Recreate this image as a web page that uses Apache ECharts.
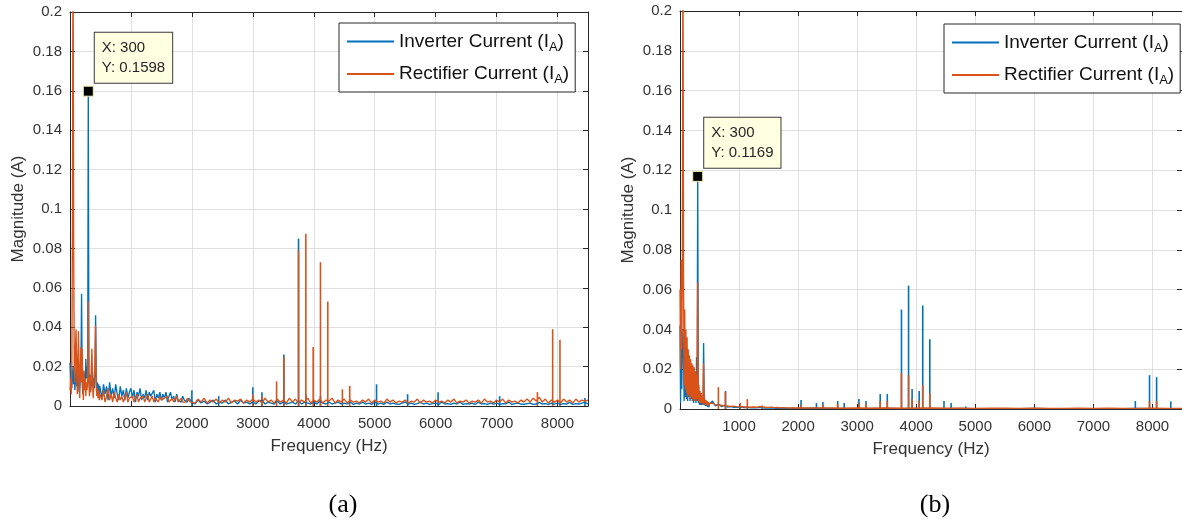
<!DOCTYPE html>
<html>
<head>
<meta charset="utf-8">
<script src="https://cdn.jsdelivr.net/npm/echarts@6/dist/echarts.min.js"></script>
<style>
html,body{margin:0;padding:0;background:#fff;}
#c{width:1182px;height:525px;}
</style>
</head>
<body>
<div id="c"></div>
<script>
// ---------- DATA ----------
const seriesNames = ['Inverter Current', 'Rectifier Current'];
const xTicks = { min: 0, max: 8500, interval: 1000 };
const yTicks = { min: 0, max: 0.2, interval: 0.02 };
const tipA = [300, 0.1598];
const tipB = [300, 0.1169];

// shared low-frequency bins (Hz)
const freqLow = [0,10,20,30,40,50,60,70,80,90,100,110,120,130,140,150,160,170,180,190,200,210,220,230,240,250,260,270,280,290,300,310,320,330,340,350,360,370,380,390,400,410,420,430,440,450,460,470,480,490];

// ---- panel (a) ----
const freqMidA = [500,525,550,575,600,625,650,675,700,725,750,775,800,825,850,875,900,925,950,975,1000,1025,1050,1075,1100,1125,1150,1175,1200,1225,1250,1275,1300,1325,1350,1375,1400,1425,1450,1475,1500,1525,1550,1575,1600,1625,1650,1675,1700,1725,1750,1775,1800,1825,1850,1875,1900,1925,1950,1975];
const freqHighA = [2000,2050,2100,2150,2200,2250,2300,2350,2400,2450,2500,2550,2600,2650,2700,2750,2800,2850,2900,2950,3000,3050,3100,3150,3200,3250,3300,3350,3400,3450,3500,3550,3600,3650,3700,3750,3800,3850,3900,3950,4000,4050,4100,4150,4200,4250,4300,4350,4400,4450,4500,4550,4600,4650,4700,4750,4800,4850,4900,4950,5000,5050,5100,5150,5200,5250,5300,5350,5400,5450,5500,5550,5600,5650,5700,5750,5800,5850,5900,5950,6000,6050,6100,6150,6200,6250,6300,6350,6400,6450,6500,6550,6600,6650,6700,6750,6800,6850,6900,6950,7000,7050,7100,7150,7200,7250,7300,7350,7400,7450,7500,7550,7600,7650,7700,7750,7800,7850,7900,7950,8000,8050,8100,8150,8200,8250,8300,8350,8400,8450,8500];

const invLowA = [0.022,0.012,0.018,0.009,0.016,0.02,0.011,0.017,0.008,0.014,
0.019,0.01,0.015,0.007,0.013,0.018,0.009,0.014,0.02,0.057,
0.012,0.006,0.013,0.009,0.017,0.011,0.024,0.014,0.02,0.012,
0.1598,0.015,0.009,0.016,0.008,0.013,0.01,0.017,0.011,0.014,
0.009,0.018,0.046,0.014,0.008,0.012,0.007,0.011,0.006,0.01];
const recLowA = [0.008,0.014,0.006,0.02,0.09,0.25,0.08,0.02,0.012,0.03,
0.039,0.018,0.006,0.025,0.038,0.015,0.004,0.02,0.03,0.012,
0.029,0.01,0.003,0.018,0.008,0.014,0.005,0.012,0.008,0.014,
0.053,0.012,0.005,0.015,0.007,0.02,0.029,0.012,0.004,0.01,
0.015,0.02,0.041,0.01,0.005,0.009,0.004,0.008,0.003,0.006];
const invMidA = [0.008,0.004,0.011,0.006,0.01,0.003,0.012,0.005,0.009,0.004,0.011,0.006,0.003,0.01,0.005,0.008,0.003,0.009,0.004,0.007,
0.009,0.004,0.008,0.002,0.007,0.005,0.009,0.003,0.006,0.004,0.008,0.003,0.007,0.005,0.004,0.008,0.002,0.006,0.004,0.007,
0.003,0.006,0.004,0.007,0.002,0.005,0.007,0.003,0.005,0.002,0.006,0.003,0.004,0.002,0.005,0.003,0.004,0.002,0.004,0.003];
const recMidA = [0.006,0.003,0.008,0.002,0.005,0.009,0.003,0.006,0.002,0.007,0.004,0.002,0.006,0.003,0.005,0.002,0.004,0.007,0.002,0.004,
0.003,0.005,0.002,0.004,0.006,0.002,0.004,0.003,0.005,0.002,0.004,0.006,0.002,0.003,0.005,0.002,0.004,0.003,0.002,0.005,
0.003,0.002,0.004,0.003,0.005,0.002,0.003,0.004,0.002,0.003,0.005,0.002,0.003,0.004,0.002,0.003,0.002,0.004,0.003,0.002];
const invHighA = [0.002,0.001,0.003,0.0015,0.0025,0.001,0.002,0.003,0.001,0.002,
0.0015,0.003,0.001,0.002,0.0025,0.001,0.003,0.0015,0.002,0.001,
0.002,0.001,0.0025,0.003,0.001,0.002,0.0015,0.001,0.0025,0.001,
0.002,0.001,0.0015,0.002,0.001,0.0025,0.001,0.002,0.0015,0.001,
0.002,0.001,0.0025,0.0015,0.001,0.002,0.001,0.0015,0.002,0.001,
0.0015,0.001,0.002,0.0008,0.0015,0.001,0.002,0.001,0.0015,0.0008,
0.002,0.001,0.0015,0.0008,0.002,0.001,0.0015,0.001,0.0008,0.0015,
0.002,0.001,0.0015,0.0008,0.0012,0.002,0.001,0.0015,0.0008,0.0012,
0.0015,0.0008,0.002,0.001,0.0012,0.0008,0.0015,0.001,0.002,0.0008,
0.0012,0.001,0.0015,0.0008,0.002,0.001,0.0012,0.0008,0.0015,0.001,
0.0015,0.0008,0.0012,0.001,0.002,0.0008,0.0012,0.0015,0.001,0.0008,
0.0012,0.0015,0.0008,0.001,0.0018,0.001,0.0012,0.0008,0.0015,0.001,
0.0015,0.0008,0.0012,0.001,0.0018,0.0008,0.0012,0.001,0.0015,0.002,0.001];
const recHighA = [0.003,0.0015,0.0035,0.002,0.004,0.0015,0.003,0.002,0.0035,0.0015,
0.003,0.002,0.004,0.0015,0.003,0.0025,0.0035,0.0015,0.003,0.002,
0.0035,0.002,0.003,0.0015,0.004,0.002,0.003,0.0015,0.0035,0.002,
0.003,0.0015,0.004,0.002,0.0035,0.0015,0.003,0.002,0.004,0.0015,
0.003,0.002,0.0035,0.0015,0.003,0.0025,0.004,0.0015,0.003,0.002,
0.0035,0.0015,0.003,0.002,0.0025,0.0015,0.003,0.002,0.0035,0.0015,
0.003,0.002,0.0025,0.0015,0.0035,0.002,0.003,0.0015,0.0025,0.002,
0.003,0.0015,0.0025,0.002,0.0035,0.0015,0.003,0.002,0.0025,0.0015,
0.003,0.002,0.0025,0.0015,0.003,0.002,0.0035,0.0015,0.0025,0.002,
0.003,0.0015,0.0025,0.002,0.003,0.0015,0.0035,0.002,0.0025,0.0015,
0.003,0.002,0.0035,0.0015,0.003,0.002,0.0025,0.0015,0.003,0.002,
0.0035,0.002,0.004,0.0025,0.0045,0.002,0.0035,0.0015,0.003,0.002,
0.003,0.0015,0.0035,0.002,0.003,0.0015,0.0035,0.002,0.003,0.0025,0.003];
// narrow spectral lines [Hz, A]
const invSpikesA = [[2000,0.008],[2440,0.005],[3000,0.0095],[3150,0.007],[3510,0.0262],[3750,0.085],[3870,0.006],[4110,0.005],[5030,0.011],[5540,0.006],[6040,0.007],[7050,0.005],[8450,0.004]];
const recSpikesA = [[3000,0.006],[3150,0.005],[3390,0.0125],[3510,0.025],[3750,0.079],[3870,0.0875],[3990,0.030],[4110,0.073],[4230,0.053],[4470,0.0085],[4590,0.0102],[7670,0.007],[7920,0.039],[8040,0.0336]];

// ---- panel (b) ----
const freqMidB = [500,550,600,650,700,750,800,850,900,950,1000,1050,1100,1150,1200,1250,1300,1350,1400,1450,1500,1550,1600,1650,1700,1750,1800,1850,1900,1950];
const freqHighB = [2000,2250,2500,2750,3000,3250,3500,3750,4000,4250,4500,4750,5000,5250,5500,5750,6000,6250,6500,6750,7000,7250,7500,7750,8000,8250,8500];

const invLowB = [0.042,0.003,0.038,0.01,0.03,0.04,0.028,0.004,0.022,0.006,
0.024,0.005,0.02,0.004,0.025,0.006,0.018,0.004,0.02,0.005,
0.017,0.004,0.019,0.003,0.016,0.004,0.014,0.003,0.026,0.004,
0.1169,0.003,0.008,0.002,0.006,0.002,0.005,0.002,0.004,0.002,
0.0332,0.002,0.004,0.0015,0.003,0.0015,0.003,0.001,0.0025,0.001];
const recLowB = [0.06,0.02,0.075,0.03,0.07,0.25,0.065,0.012,0.05,0.01,
0.04,0.008,0.036,0.006,0.03,0.007,0.027,0.005,0.025,0.006,
0.023,0.004,0.022,0.005,0.021,0.004,0.019,0.004,0.017,0.005,
0.0636,0.004,0.012,0.003,0.009,0.003,0.008,0.003,0.006,0.002,
0.023,0.003,0.005,0.002,0.0045,0.002,0.004,0.0018,0.0035,0.0017];
const invMidB = [0.0025,0.004,0.0015,0.0025,0.0012,0.0018,0.001,0.0012,0.0009,0.001,0.0008,0.0009,0.0007,0.0008,0.0006,0.0007,0.0006,0.0008,0.0006,0.0005,0.0005,0.0006,0.0004,0.0005,0.0004,0.0005,0.0004,0.0003,0.0004,0.0003];
const recMidB = [0.003,0.0028,0.0022,0.002,0.0019,0.0016,0.0015,0.0013,0.0014,0.0012,0.0011,0.0012,0.001,0.0011,0.0009,0.001,0.0009,0.0012,0.0011,0.0009,0.0008,0.0009,0.0007,0.0008,0.0006,0.0007,0.0006,0.0005,0.0006,0.0005];
const invHighB = [0.0003,0.0004,0.0003,0.0003,0.0002,0.0003,0.0003,0.0002,0.0003,0.0002,0.0002,0.0003,0.0002,0.0002,0.0002,0.0002,0.0003,0.0002,0.0002,0.0002,0.0002,0.0002,0.0002,0.0003,0.0002,0.0002,0.0002];
const recHighB = [0.0005,0.0006,0.0005,0.0004,0.0005,0.0004,0.0005,0.0004,0.0004,0.0005,0.0004,0.0004,0.0003,0.0004,0.0004,0.0003,0.0004,0.0003,0.0003,0.0004,0.0003,0.0004,0.0003,0.0003,0.0004,0.0003,0.0003];
const invSpikesB = [[770,0.009],[2050,0.0045],[2310,0.003],[2420,0.0035],[2670,0.004],[2780,0.003],[3030,0.005],[3150,0.004],[3390,0.0075],[3510,0.0075],[3750,0.050],[3870,0.062],[3930,0.010],[4050,0.009],[4110,0.052],[4230,0.035],[4470,0.004],[4590,0.003],[4840,0.0012],[7710,0.004],[7950,0.017],[8070,0.016],[8310,0.0038]];
const recSpikesB = [[650,0.011],[770,0.0085],[1020,0.003],[1140,0.005],[1390,0.0018],[2050,0.002],[2420,0.002],[2670,0.0025],[3030,0.003],[3150,0.0025],[3390,0.004],[3510,0.004],[3750,0.018],[3870,0.017],[3930,0.005],[4050,0.004],[4110,0.012],[4230,0.008],[7950,0.004],[8070,0.004]];

// ---------- STYLE ----------
const BLUE = '#0072BD', ORANGE = '#D95319';
const AX = '#262626', TXT = '#333333', GRID = '#e0e0e0';
const FONT = 'Liberation Sans';

function pairs(fs, vs) { return fs.map((f, i) => [f, vs[i]]); }
const invA = pairs(freqLow, invLowA).concat(pairs(freqMidA, invMidA), pairs(freqHighA, invHighA));
const recA = pairs(freqLow, recLowA).concat(pairs(freqMidA, recMidA), pairs(freqHighA, recHighA));
const invB = pairs(freqLow, invLowB).concat(pairs(freqMidB, invMidB), pairs(freqHighB, invHighB));
const recB = pairs(freqLow, recLowB).concat(pairs(freqMidB, recMidB), pairs(freqHighB, recHighB));

function xAxis(gi, pos) {
  const main = pos === 'bottom';
  return {
    gridIndex: gi, type: 'value', position: pos,
    min: xTicks.min, max: xTicks.max, interval: xTicks.interval,
    name: main ? 'Frequency (Hz)' : '', nameLocation: 'middle', nameGap: 32,
    nameTextStyle: { fontSize: 17, color: TXT, fontFamily: FONT },
    axisLine: { show: true, onZero: false, lineStyle: { color: AX, width: 1 } },
    axisTick: { show: true, inside: true, length: 5, lineStyle: { color: AX } },
    axisLabel: { show: main, fontSize: 15, color: TXT, margin: 10, showMinLabel: false, showMaxLabel: false,
                 fontFamily: FONT, formatter: v => String(v) },
    splitLine: { show: main, lineStyle: { color: GRID, width: 1 } }
  };
}
function yAxis(gi, pos) {
  const main = pos === 'left';
  return {
    gridIndex: gi, type: 'value', position: pos,
    min: yTicks.min, max: yTicks.max, interval: yTicks.interval,
    name: main ? 'Magnitude (A)' : '', nameLocation: 'middle', nameGap: 43,
    nameTextStyle: { fontSize: 17, color: TXT, fontFamily: FONT },
    axisLine: { show: true, onZero: false, lineStyle: { color: AX, width: 1 } },
    axisTick: { show: true, inside: true, length: 5, lineStyle: { color: AX } },
    axisLabel: { show: main, fontSize: 15, color: TXT, margin: 8, fontFamily: FONT },
    splitLine: { show: main, lineStyle: { color: GRID, width: 1 } }
  };
}
function tip(coord) {
  return {
    symbol: 'rect', symbolSize: 10, silent: true,
    itemStyle: { color: '#000', borderColor: '#f3eeb8', borderWidth: 1 },
    label: {
      show: true, position: [12, -53], align: 'left', verticalAlign: 'top',
      formatter: 'X: ' + coord[0] + '\nY: ' + coord[1],
      backgroundColor: '#ffffe1', borderColor: '#3a3a3a', borderWidth: 1,
      padding: [5, 7, 5, 7], lineHeight: 20, fontSize: 15, color: '#262626', fontFamily: FONT
    },
    data: [{ coord: coord }]
  };
}
function lineS(name, xi, data, color, mp) {
  const s = { type: 'line', name: name, xAxisIndex: xi, yAxisIndex: xi, data: data,
    symbol: 'none', showSymbol: false, clip: true, lineStyle: { width: 1.35, color: color },
    itemStyle: { color: color }, emphasis: { disabled: true } };
  if (mp) s.markPoint = mp;
  return s;
}
function barS(name, xi, data, color) {
  return { type: 'bar', name: name, xAxisIndex: xi, yAxisIndex: xi, data: data,
    barWidth: 1.6, barGap: '-100%', clip: true, itemStyle: { color: color }, emphasis: { disabled: true } };
}
const legendRich = {
  t: { fontSize: 19, fontFamily: FONT, color: '#111', lineHeight: 24, verticalAlign: 'middle' },
  s: { fontSize: 13, fontFamily: FONT, color: '#111', lineHeight: 12, verticalAlign: 'bottom' }
};
function legend(left, top) {
  return {
    left: left, top: top, orient: 'vertical',
    data: seriesNames.map(n => ({ name: n, icon: 'rect' })),
    itemWidth: 47, itemHeight: 2, itemGap: 11, padding: [9, 6, 6, 8],
    backgroundColor: '#fff', borderColor: AX, borderWidth: 1, borderRadius: 0,
    selectedMode: false,
    formatter: n => '{t|' + n + ' (I}{s|A}{t|)}',
    textStyle: { rich: legendRich }
  };
}

const chart = echarts.init(document.getElementById('c'), null, { renderer: 'canvas' });
chart.setOption({
  animation: false,
  backgroundColor: '#fff',
  textStyle: { fontFamily: FONT },
  grid: [
    { left: 70, top: 12, width: 518, height: 394, containLabel: false },
    { left: 680, top: 11, width: 506, height: 398, containLabel: false }
  ],
  xAxis: [xAxis(0, 'bottom'), xAxis(0, 'top'), xAxis(1, 'bottom'), xAxis(1, 'top')],
  yAxis: [yAxis(0, 'left'), yAxis(0, 'right'), yAxis(1, 'left'), yAxis(1, 'right')],
  legend: [legend(339, 23), legend(944, 24)],
  series: [
    lineS(seriesNames[0], 0, invA, BLUE, tip(tipA)),
    barS(seriesNames[0], 0, invSpikesA, BLUE),
    lineS(seriesNames[1], 0, recA, ORANGE),
    barS(seriesNames[1], 0, recSpikesA, ORANGE),
    lineS(seriesNames[0], 2, invB, BLUE, tip(tipB)),
    barS(seriesNames[0], 2, invSpikesB, BLUE),
    lineS(seriesNames[1], 2, recB, ORANGE),
    barS(seriesNames[1], 2, recSpikesB, ORANGE)
  ],
  graphic: [
    { type: 'text', x: 343, y: 505, style: { text: '(a)', font: '26px "Liberation Serif"', fill: '#000', align: 'center', verticalAlign: 'middle' } },
    { type: 'text', x: 935, y: 505, style: { text: '(b)', font: '26px "Liberation Serif"', fill: '#000', align: 'center', verticalAlign: 'middle' } }
  ]
});
</script>
</body>
</html>
